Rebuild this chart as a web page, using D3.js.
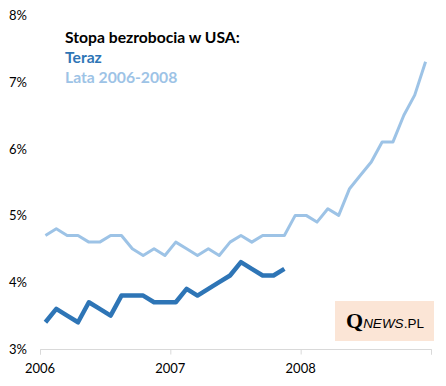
<!DOCTYPE html>
<html><head><meta charset="utf-8">
<script src="https://cdn.jsdelivr.net/npm/d3@7/dist/d3.min.js"></script>
<style>body{margin:0;background:#fff}svg{display:block}</style>
</head><body>
<script>
const months = d3.range(36);
const yearTicks = [2006, 2007, 2008, 2009];
const yearLabels = ["2006", "2007", "2008"];
const yTicks = [3, 4, 5, 6, 7, 8];
const teraz = [3.4,3.6,3.5,3.4,3.7,3.6,3.5,3.8,3.8,3.8,3.7,3.7,3.7,3.9,3.8,3.9,4.0,4.1,4.3,4.2,4.1,4.1,4.2];
const lata = [4.7,4.8,4.7,4.7,4.6,4.6,4.7,4.7,4.5,4.4,4.5,4.4,
              4.6,4.5,4.4,4.5,4.4,4.6,4.7,4.6,4.7,4.7,4.7,5.0,
              5.0,4.9,5.1,5.0,5.4,5.6,5.8,6.1,6.1,6.5,6.8,7.3];

const W = 446, H = 386;
const svg = d3.select("body").append("svg").attr("width", W).attr("height", H);
const font = "Lato, 'Open Sans', sans-serif";

const x = d3.scaleLinear().domain([2006, 2009]).range([40, 431]);
const y = d3.scaleLinear().domain([3, 8]).range([349, 15]);
const xm = i => x(2006 + (i + 0.5) / 12);

// x axis
const xa = svg.append("g").attr("transform", "translate(0,349.5)")
  .call(d3.axisBottom(x).tickValues(yearTicks).tickSize(5).tickFormat(""));
xa.select(".domain").attr("stroke", "#d9d9d9").attr("d", "M40.5,5V0H431.5V5");
xa.selectAll(".tick line").attr("stroke", "#d9d9d9");
svg.selectAll(".xl").data(yearLabels).enter().append("text")
  .attr("x", d => x(+d)).attr("y", 373).attr("text-anchor", "middle")
  .style("font-family", font).style("font-size", "13px").attr("fill", "#000").text(d => d);

// y labels
svg.selectAll(".yl").data(yTicks).enter().append("text")
  .attr("x", 27).attr("y", d => y(d) + 5).attr("text-anchor", "end")
  .style("font-family", font).style("font-size", "13px").attr("fill", "#000").text(d => d + "%");

const line = d3.line().x((d, i) => xm(i)).y(d => y(d));
svg.append("path").datum(lata).attr("d", line).attr("fill", "none")
  .attr("stroke", "#9dc3e6").attr("stroke-width", 3).attr("stroke-linejoin", "round");
svg.append("path").datum(teraz).attr("d", line).attr("fill", "none")
  .attr("stroke", "#2e75b6").attr("stroke-width", 4.5).attr("stroke-linejoin", "round");

// legend
const lg = [["Stopa bezrobocia w USA:", "#000"], ["Teraz", "#2e75b6"], ["Lata 2006-2008", "#9dc3e6"]];
svg.selectAll(".lg").data(lg).enter().append("text")
  .attr("x", 65).attr("y", (d, i) => 43 + i * 20)
  .style("font-family", font).style("font-size", "15.7px").style("font-weight", "bold")
  .attr("fill", d => d[1]).text(d => d[0]);

// watermark
svg.append("rect").attr("x", 335).attr("y", 301).attr("width", 99).attr("height", 40).attr("fill", "#fbe5d6");
const wm = svg.append("text").attr("x", 346).attr("y", 328).attr("fill", "#000");
wm.append("tspan").style("font-family", "'Liberation Serif', serif").style("font-size", "22px").style("font-weight", "bold").text("Q");
wm.append("tspan").style("font-family", "'Liberation Sans', sans-serif").style("font-size", "13.5px").style("font-style", "italic").text("NEWS");
wm.append("tspan").style("font-family", "'Liberation Sans', sans-serif").style("font-size", "13.5px").text(".PL");
</script>
</body></html>
